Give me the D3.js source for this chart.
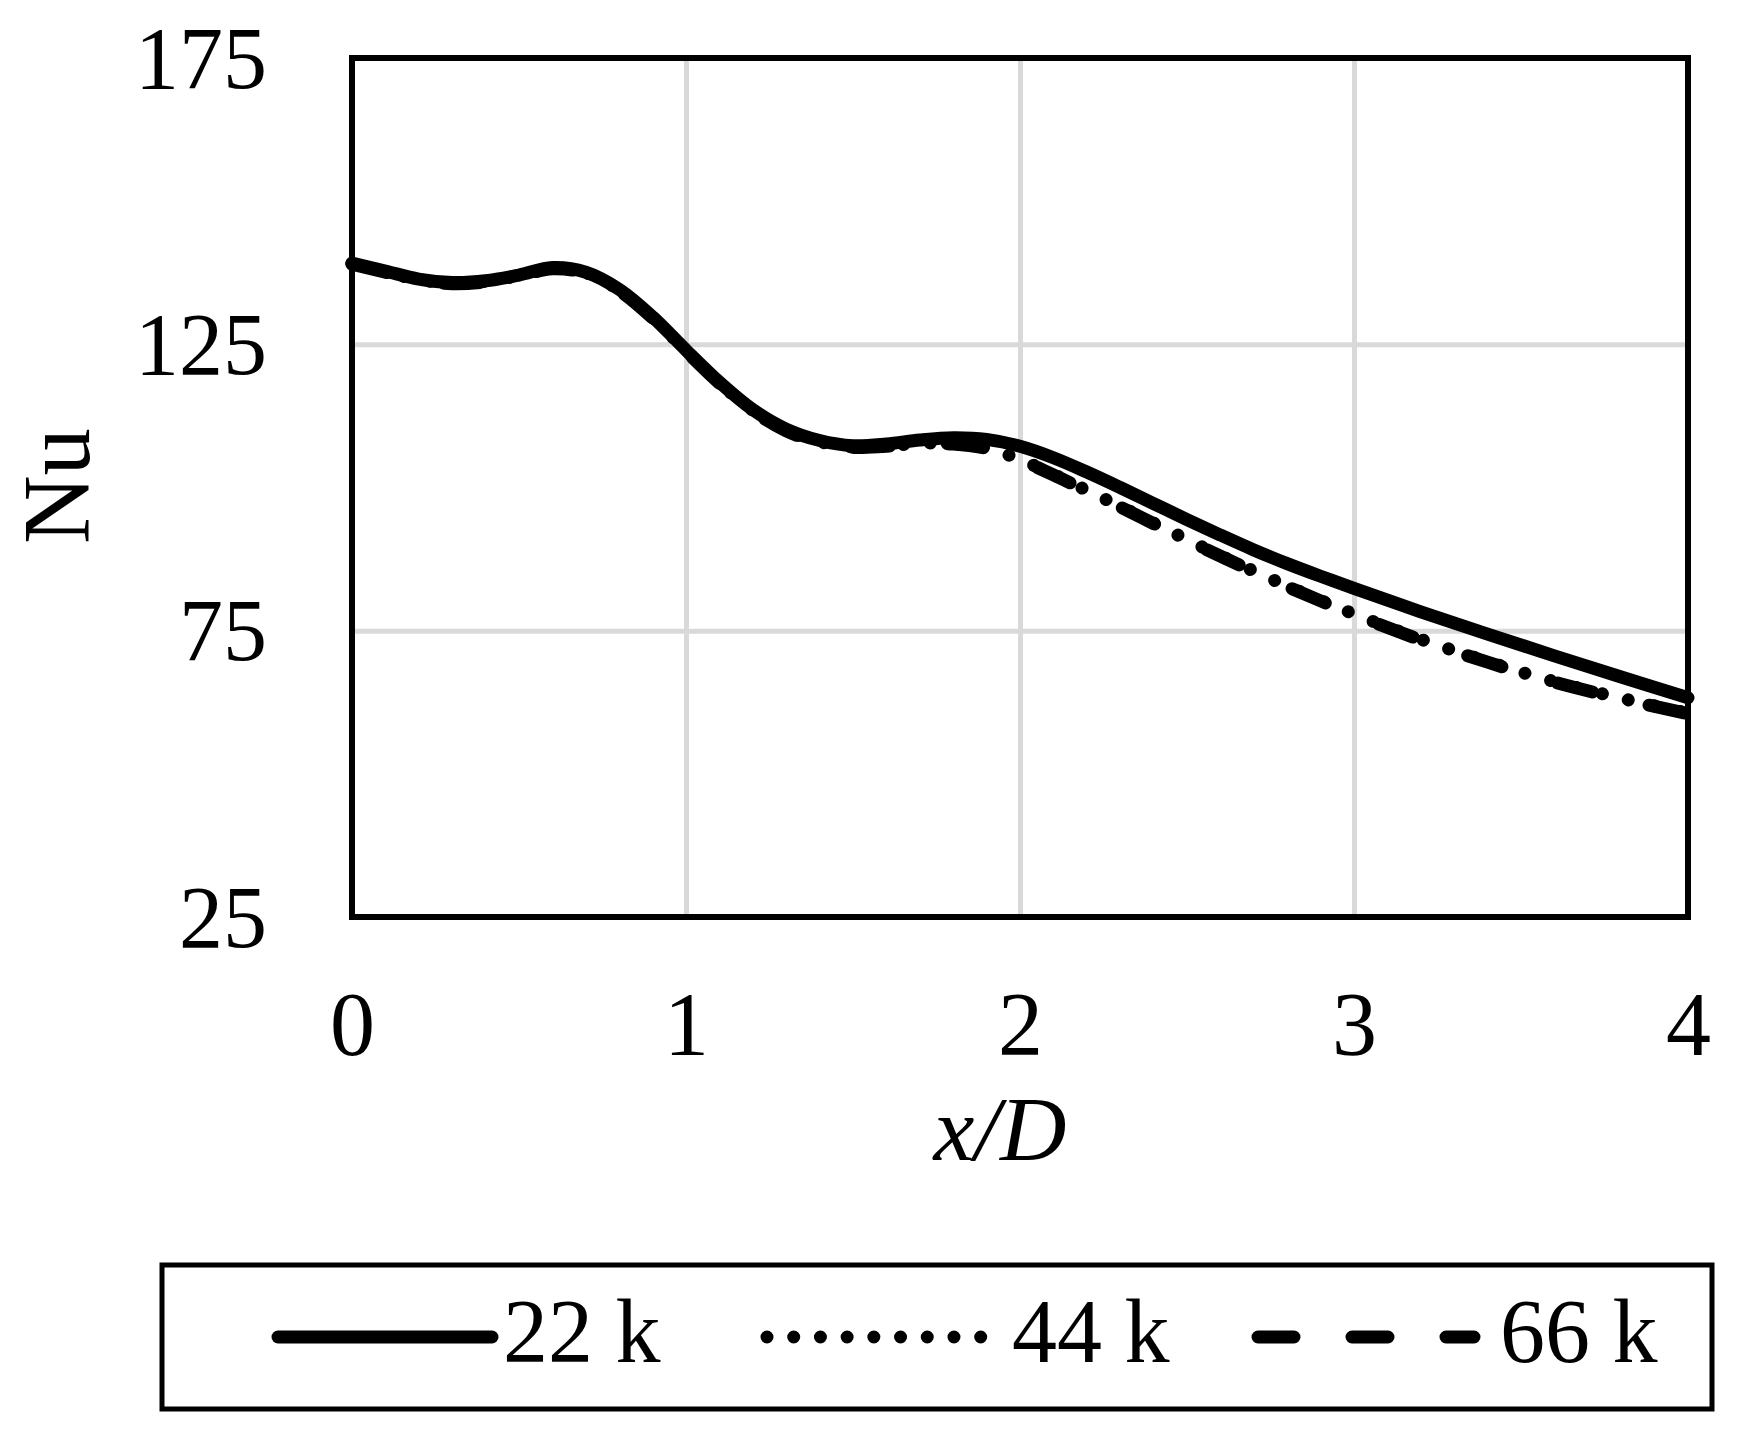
<!DOCTYPE html>
<html>
<head>
<meta charset="utf-8">
<script src="https://cdn.jsdelivr.net/npm/d3@7"></script>
<style>
  body { margin: 0; background: #fff; }
  text { font-family: "Liberation Serif", "Times New Roman", serif; fill: #000; }
</style>
</head>
<body>
<div id="chart"></div>
<script>
// data (x/D vs Nu)
var xD = [0, 0.1, 0.2, 0.3, 0.4, 0.5, 0.6, 0.7, 0.8, 0.9, 1.0, 1.1, 1.2, 1.3, 1.4, 1.5,
          1.6, 1.7, 1.8, 1.9, 2.0, 2.1, 2.2, 2.3, 2.4, 2.5, 2.6, 2.7, 2.8, 2.9, 3.0,
          3.2, 3.4, 3.6, 3.8, 4.0];
var nu22k = [139.2, 137.8, 136.4, 135.8, 136.1, 137.1, 138.4, 137.6, 134.6, 129.8, 124.0, 118.4, 113.6, 110.2, 108.2, 107.3,
             107.6, 108.3, 108.7, 108.4, 107.2, 105.2, 102.7, 100.0, 97.2, 94.4, 91.7, 89.1, 86.7, 84.5, 82.4,
             78.3, 74.4, 70.6, 66.9, 63.3];
var nu44k = [139.1, 137.7, 136.3, 135.7, 136.0, 137.0, 138.3, 137.5, 134.5, 129.7, 123.9, 118.3, 113.5, 110.0, 108.0, 107.1,
             107.3, 107.7, 107.7, 106.9, 104.9, 102.3, 99.5, 96.7, 93.8, 90.9, 88.1, 85.4, 82.8, 80.3, 77.9,
             73.5, 69.6, 66.1, 63.2, 60.6];
var nu66k = [139.0, 137.6, 136.2, 135.6, 135.9, 136.9, 138.2, 137.4, 134.4, 129.6, 123.8, 118.2, 113.4, 109.9, 107.9, 107.0,
             107.2, 107.6, 107.6, 106.8, 104.8, 102.2, 99.4, 96.6, 93.7, 90.8, 88.0, 85.3, 82.7, 80.2, 77.8,
             73.4, 69.5, 66.0, 63.1, 60.5];
var seriesNames = ["22 k", "44 k", "66 k"];
var xTicks = [0, 1, 2, 3, 4];
var yTicks = [25, 75, 125, 175];

var W = 1742, H = 1437;
var plot = {left: 352, right: 1688, top: 58, bottom: 917};

var svg = d3.select("#chart").append("svg")
    .attr("width", W)
    .attr("height", H);

var x = d3.scaleLinear().domain([0, 4]).range([plot.left, plot.right]);
var y = d3.scaleLinear().domain([25, 175]).range([plot.bottom, plot.top]);

// gridlines
svg.append("g")
    .attr("transform", "translate(0," + plot.bottom + ")")
    .call(d3.axisBottom(x).tickValues(xTicks).tickSize(-(plot.bottom - plot.top)).tickFormat(""))
    .call(function (g) { g.select(".domain").remove(); })
    .selectAll("line").attr("stroke", "#d9d9d9").attr("stroke-width", 5);

svg.append("g")
    .attr("transform", "translate(" + plot.left + ",0)")
    .call(d3.axisLeft(y).tickValues(yTicks).tickSize(-(plot.right - plot.left)).tickFormat(""))
    .call(function (g) { g.select(".domain").remove(); })
    .selectAll("line").attr("stroke", "#d9d9d9").attr("stroke-width", 5);

// series
var styles = [
    {dash: null, cap: "round"},
    {dash: "0.01,26.7", cap: "round"},
    {dash: "36,58", cap: "round"}
];
var series = [nu22k, nu44k, nu66k];

var line = d3.line()
    .x(function (d) { return x(d[0]); })
    .y(function (d) { return y(d[1]); })
    .curve(d3.curveCatmullRom.alpha(0.5));

// draw 66k, 44k, then 22k on top
[2, 1, 0].forEach(function (i) {
    var pts = xD.map(function (v, j) { return [v, series[i][j]]; });
    svg.append("path")
        .datum(pts)
        .attr("d", line)
        .attr("fill", "none")
        .attr("stroke", "#000")
        .attr("stroke-width", 13)
        .attr("stroke-linecap", styles[i].cap)
        .attr("stroke-linejoin", "round")
        .attr("stroke-dasharray", styles[i].dash);
});

// plot frame
svg.append("rect")
    .attr("x", plot.left)
    .attr("y", plot.top)
    .attr("width", plot.right - plot.left)
    .attr("height", plot.bottom - plot.top)
    .attr("fill", "none")
    .attr("stroke", "#000")
    .attr("stroke-width", 6);

// tick labels
var xAxis = svg.append("g")
    .attr("transform", "translate(0," + plot.bottom + ")")
    .call(d3.axisBottom(x).tickValues(xTicks).tickSize(0).tickPadding(138).tickFormat(d3.format("d")));
xAxis.select(".domain").remove();
xAxis.selectAll("text")
    .attr("dy", null)
    .style("font-family", "'Liberation Serif', 'Times New Roman', serif")
    .style("font-size", "90px");

var yAxis = svg.append("g")
    .attr("transform", "translate(" + plot.left + ",0)")
    .call(d3.axisLeft(y).tickValues(yTicks).tickSize(0).tickPadding(85));
yAxis.select(".domain").remove();
yAxis.selectAll("text")
    .attr("dy", "0.33em")
    .style("font-family", "'Liberation Serif', 'Times New Roman', serif")
    .style("font-size", "88px");

// axis titles
svg.append("text")
    .attr("x", 1000)
    .attr("y", 1160)
    .attr("text-anchor", "middle")
    .style("font-size", "92px")
    .style("font-style", "italic")
    .text("x/D");

svg.append("text")
    .attr("transform", "translate(89,486) rotate(-90)")
    .attr("text-anchor", "middle")
    .style("font-size", "95px")
    .text("Nu");

// legend
var legend = svg.append("g");
legend.append("rect")
    .attr("x", 162)
    .attr("y", 1265)
    .attr("width", 1550)
    .attr("height", 144)
    .attr("fill", "#fff")
    .attr("stroke", "#000")
    .attr("stroke-width", 5);

var legendItems = [
    {x1: 278, x2: 492, tx: 503},
    {x1: 767, x2: 982, tx: 1012},
    {x1: 1258, x2: 1474, tx: 1500}
];
legendItems.forEach(function (it, i) {
    legend.append("line")
        .attr("x1", it.x1).attr("x2", it.x2)
        .attr("y1", 1337).attr("y2", 1337)
        .attr("stroke", "#000")
        .attr("stroke-width", 13)
        .attr("stroke-linecap", styles[i].cap)
        .attr("stroke-dasharray", styles[i].dash);
    legend.append("text")
        .attr("x", it.tx)
        .attr("y", 1362)
        .style("font-size", "90px")
        .text(seriesNames[i]);
});
</script>
</body>
</html>
